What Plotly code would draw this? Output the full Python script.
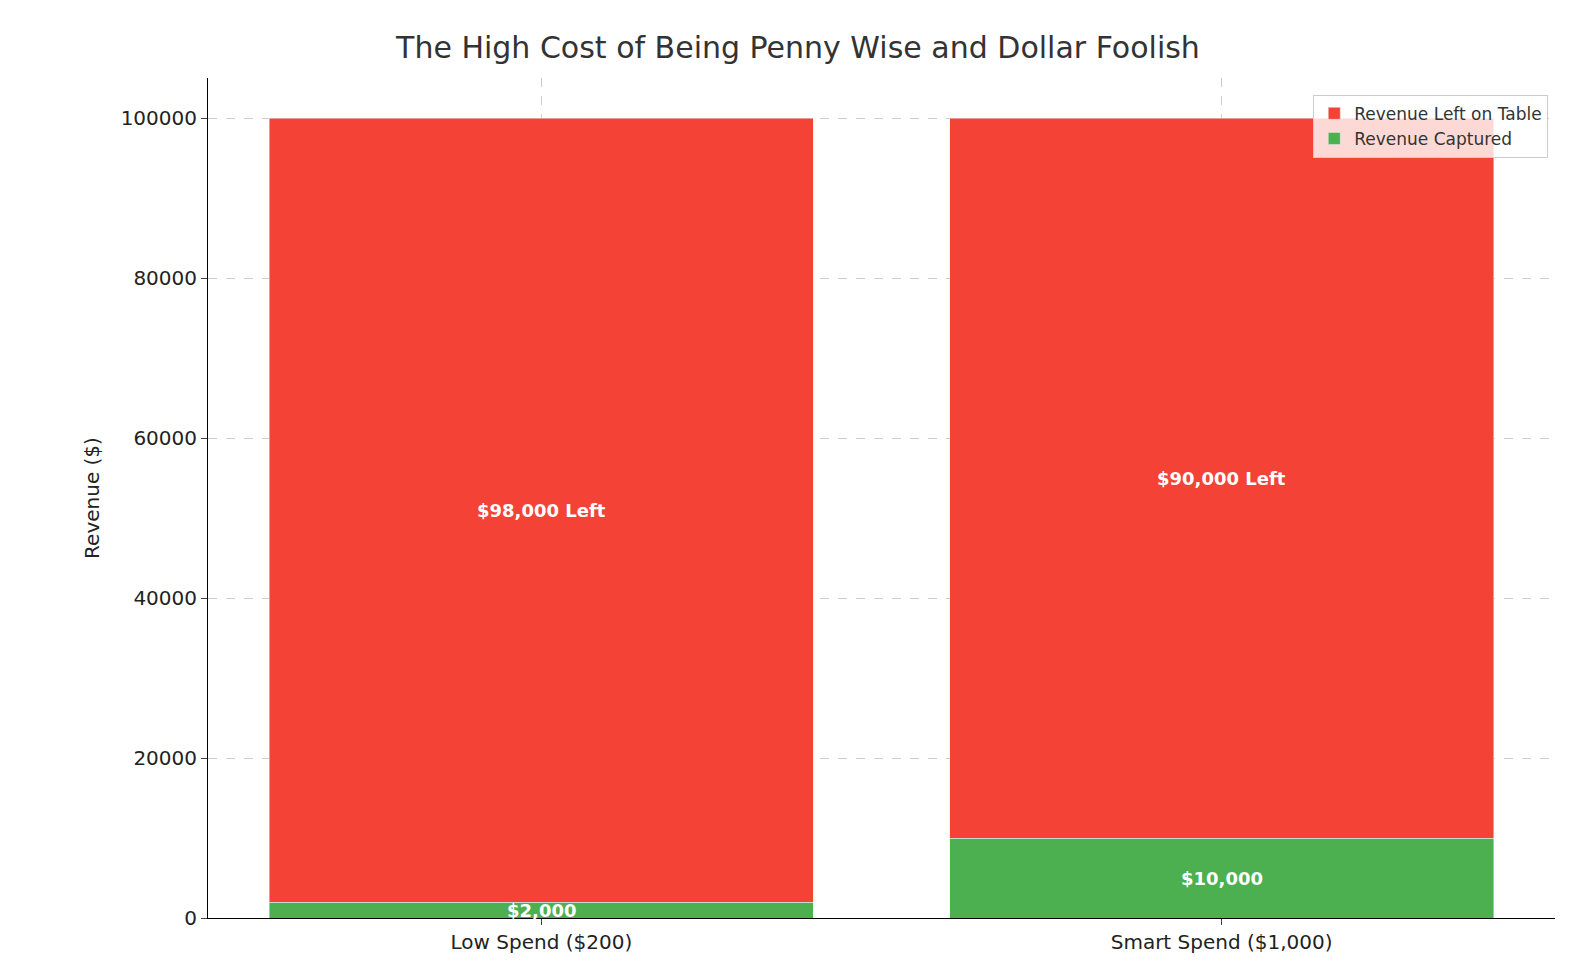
import plotly.graph_objects as go

categories = ["Low Spend ($200)", "Smart Spend ($1,000)"]
captured = [2000, 10000]
left_on_table = [98000, 90000]
captured_labels = ["$2,000", "$10,000"]
left_labels = ["$98,000 Left", "$90,000 Left"]

fig = go.Figure()
fig.add_bar(x=[0, 1], y=captured, name="Revenue Captured", marker_color="#4CAF50", width=0.8)
fig.add_bar(x=[0, 1], y=left_on_table, name="Revenue Left on Table", marker_color="#F44336", width=0.8)

for i in range(len(categories)):
    fig.add_annotation(x=i, y=captured[i] / 2, text="<b>" + captured_labels[i] + "</b>",
                       showarrow=False, font=dict(color="white", size=18, family="DejaVu Sans"))
    fig.add_annotation(x=i, y=captured[i] + left_on_table[i] / 2, text="<b>" + left_labels[i] + "</b>",
                       showarrow=False, font=dict(color="white", size=18, family="DejaVu Sans"))

fig.update_layout(
    barmode="stack",
    width=1580, height=980,
    paper_bgcolor="white", plot_bgcolor="white",
    margin=dict(l=200, r=33, t=70, b=70),
    font=dict(family="DejaVu Sans", color="#222", size=18),
    title=dict(text="The High Cost of Being Penny Wise and Dollar Foolish", x=0.5, xanchor="center",
               y=0.96, yanchor="middle", font=dict(size=30, color="#333")),
    legend=dict(x=0.995, y=0.98, xanchor="right", yanchor="top", bordercolor="#ccc", borderwidth=1,
                bgcolor="rgba(255,255,255,0.8)", font=dict(size=17, color="#333")),
    showlegend=True,
)
fig.update_xaxes(range=[-0.49, 1.49], tickvals=[0, 1], ticktext=categories, showline=True,
                 linecolor="black", ticks="outside", ticklen=6, showgrid=True,
                 gridcolor="#ccc", griddash="dash", tickfont=dict(size=20), zeroline=False)
fig.update_yaxes(range=[0, 105000], tickvals=[0, 20000, 40000, 60000, 80000, 100000],
                 tickformat="d", showline=True, linecolor="black", ticks="outside", ticklen=6,
                 showgrid=True, gridcolor="#ccc", griddash="dash", tickfont=dict(size=20),
                 title=dict(text="Revenue ($)", font=dict(size=20)), zeroline=False)

fig.write_html("out.html")
